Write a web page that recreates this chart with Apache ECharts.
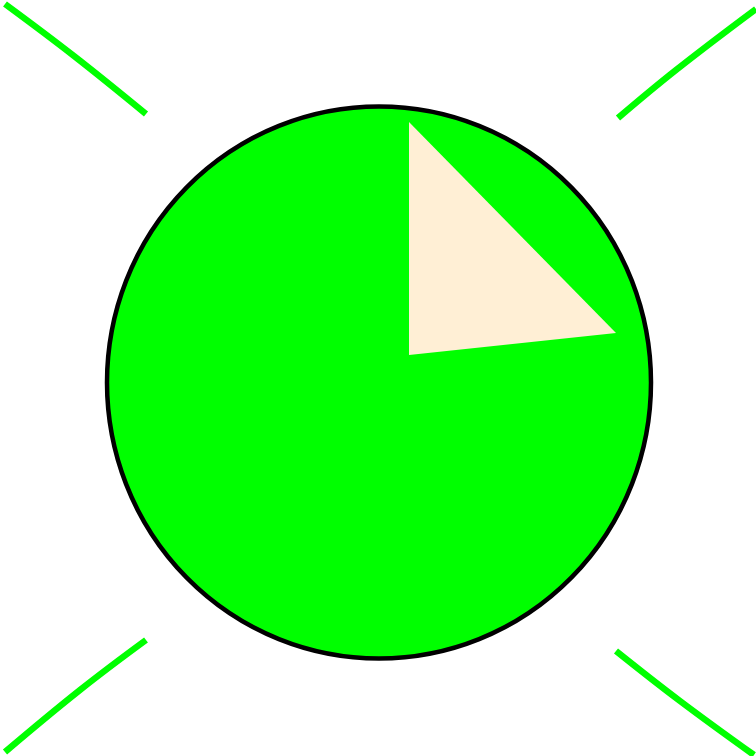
<!DOCTYPE html>
<html>
<head>
<meta charset="utf-8">
<script src="https://cdn.jsdelivr.net/npm/echarts@6/dist/echarts.min.js"></script>
<style>
  html, body { margin: 0; padding: 0; background: #fff; }
  #chart { width: 756px; height: 756px; }
</style>
</head>
<body>
<div id="chart"></div>
<script>
// 数据
var extent = [0, 756];
var bodyCenter = [379, 382.5];
var bodyRadius = [272, 276];
var wedge = [[409, 122], [409, 355], [616, 333]];
var lineTopLeft = [[5, 4], [74, 56], [146, 114]];
var lineTopRight = [[618, 118], [676, 70], [756, 9]];
var lineBottomLeft = [[146, 640], [80, 690], [5, 752]];
var lineBottomRight = [[616, 651], [680, 701], [754, 755]];

(function () {
    var myChart = echarts.init(document.getElementById("chart"));

    function cornerLine(data) {
        return {
            type: "line",
            data: data,
            smooth: 0.4,
            symbol: "none",
            silent: true,
            clip: false,
            z: 1,
            lineStyle: { color: "#00ff00", width: 6.5, cap: "butt" }
        };
    }

    var option = {
        animation: false,
        backgroundColor: "#ffffff",
        grid: { left: 0, right: 0, top: 0, bottom: 0 },
        xAxis: { type: "value", min: extent[0], max: extent[1], show: false },
        yAxis: { type: "value", min: extent[0], max: extent[1], inverse: true, show: false },
        series: [
            cornerLine(lineTopLeft),
            cornerLine(lineTopRight),
            cornerLine(lineBottomLeft),
            cornerLine(lineBottomRight),
            {
                // 椭圆主体
                type: "custom",
                z: 2,
                silent: true,
                data: [[bodyCenter[0], bodyCenter[1], bodyRadius[0], bodyRadius[1]]],
                renderItem: function (params, api) {
                    var c = api.coord([api.value(0), api.value(1)]);
                    var s = api.size([api.value(2), api.value(3)]);
                    return {
                        type: "circle",
                        x: c[0],
                        y: c[1],
                        scaleY: s[1] / s[0],
                        shape: { cx: 0, cy: 0, r: s[0] },
                        style: { fill: "#00ff00", stroke: "#000000", lineWidth: 4.5, strokeNoScale: true }
                    };
                }
            },
            {
                // 三角形
                type: "custom",
                z: 3,
                silent: true,
                data: [wedge[0].concat(wedge[1], wedge[2])],
                renderItem: function (params, api) {
                    var pts = [];
                    for (var i = 0; i < 3; i++) {
                        pts.push(api.coord([api.value(i * 2), api.value(i * 2 + 1)]));
                    }
                    return {
                        type: "polygon",
                        shape: { points: pts },
                        style: { fill: "#ffefd5" }
                    };
                }
            }
        ]
    };
    myChart.setOption(option);
})();
</script>
</body>
</html>
